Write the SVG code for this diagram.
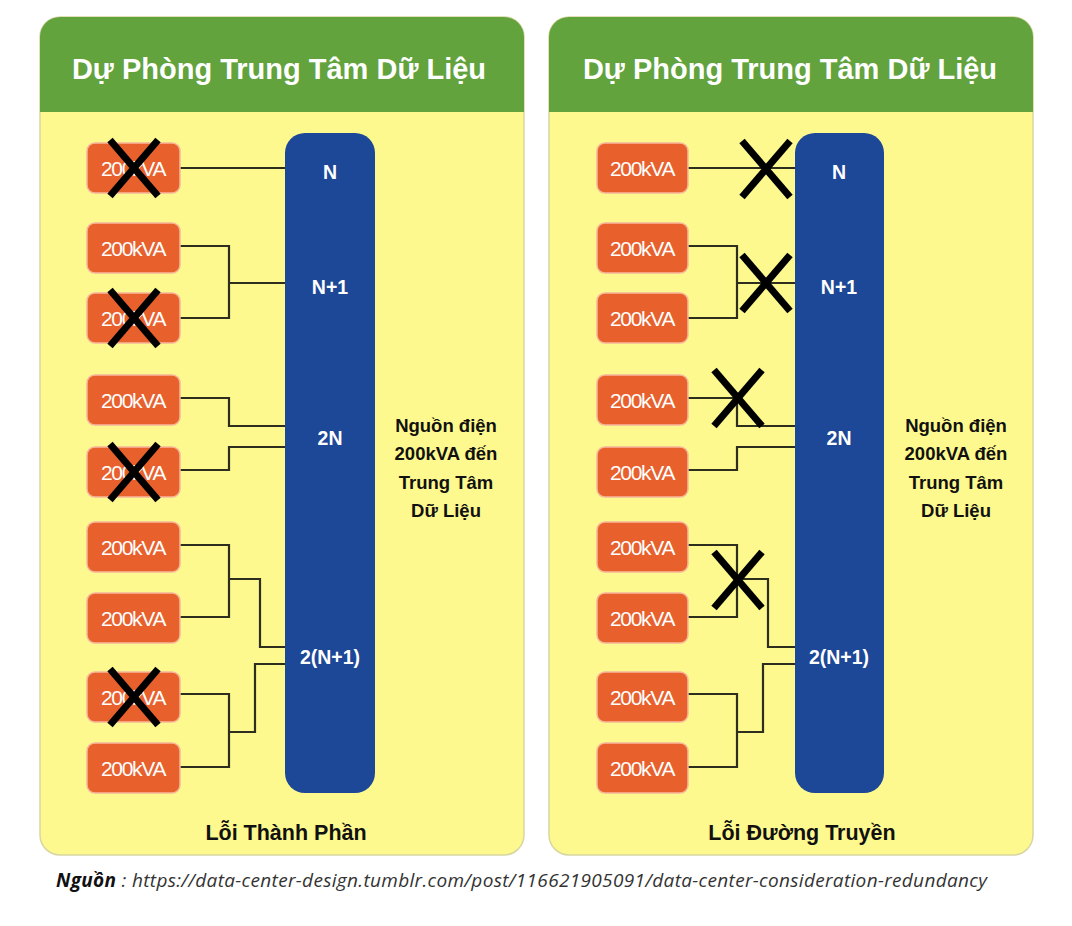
<svg xmlns="http://www.w3.org/2000/svg" width="1072" height="926" viewBox="0 0 1072 926">
<defs>
<style>
.panel{fill:#FDF98E;stroke:#D8D6A0;stroke-width:1.5}
.hdr{fill:#62A33E}
.title{font-family:"Liberation Sans",Arial,sans-serif;font-weight:bold;font-size:29px;fill:#fff;text-anchor:middle}
.box{fill:#E8602C;stroke:#F6B79A;stroke-width:1.5}
.bt{font-family:"Liberation Sans",Arial,sans-serif;font-size:21px;fill:#fff;text-anchor:middle;letter-spacing:-1.3px}
.bar{fill:#1D4797}
.bl{font-family:"Liberation Sans",Arial,sans-serif;font-weight:bold;font-size:19.5px;fill:#fff;text-anchor:middle}
.side{font-family:"Liberation Sans",Arial,sans-serif;font-weight:bold;font-size:18.5px;fill:#111;text-anchor:middle}
.foot{font-family:"Liberation Sans",Arial,sans-serif;font-weight:bold;font-size:21.5px;fill:#111;text-anchor:middle}
.ln{fill:none;stroke:#2E2E1E;stroke-width:2.2}
.x{stroke:#000;stroke-width:7;stroke-linecap:butt}
.src{font-family:"Open Sans","Liberation Sans",sans-serif;font-style:italic;font-size:19px;fill:#333}
</style>
<clipPath id="cpL"><rect x="40" y="17" width="484" height="838" rx="20"/></clipPath>
<clipPath id="cpR"><rect x="549" y="17" width="484" height="838" rx="20"/></clipPath>
<g id="xm"><line class="x" x1="-24" y1="-28" x2="24" y2="28"/><line class="x" x1="24" y1="-28" x2="-24" y2="28"/></g>
</defs>
<rect width="1072" height="926" fill="#fff"/>

<!-- LEFT PANEL -->
<g id="panel-left">
<rect class="panel" x="40" y="17" width="484" height="838" rx="20"/>
<rect class="hdr" x="40" y="17" width="484" height="95" clip-path="url(#cpL)"/>
<text class="title" x="279" y="79">Dự Phòng Trung Tâm Dữ Liệu</text>
</g>
<g id="connectors-left">
<path class="ln" d="M180 168 H285"/>
<path class="ln" d="M180 246 H229 V318 H180 M229 283 H285"/>
<path class="ln" d="M180 398 H229 V426 H285 M180 470 H229 V447 H285"/>
<path class="ln" d="M180 545 H229 V617 H180 M229 579 H260 V647 H285"/>
<path class="ln" d="M180 694 H229 V767 H180 M229 732 H255 V664 H285"/>
</g>
<g id="bar-left">
<rect class="bar" x="285" y="133" width="90" height="660" rx="20"/>
<text class="bl" x="330" y="179">N</text>
<text class="bl" x="330" y="294">N+1</text>
<text class="bl" x="330" y="445">2N</text>
<text class="bl" x="330" y="664">2(N+1)</text>
</g>
<g id="boxes-left">
<g id="L1"><rect class="box" x="87" y="143" width="93" height="50" rx="8"/><text class="bt" x="133" y="176">200kVA</text></g>
<g id="L2"><rect class="box" x="87" y="223" width="93" height="50" rx="8"/><text class="bt" x="133" y="256">200kVA</text></g>
<g id="L3"><rect class="box" x="87" y="293" width="93" height="50" rx="8"/><text class="bt" x="133" y="326">200kVA</text></g>
<g id="L4"><rect class="box" x="87" y="375" width="93" height="50" rx="8"/><text class="bt" x="133" y="408">200kVA</text></g>
<g id="L5"><rect class="box" x="87" y="447" width="93" height="50" rx="8"/><text class="bt" x="133" y="480">200kVA</text></g>
<g id="L6"><rect class="box" x="87" y="522" width="93" height="50" rx="8"/><text class="bt" x="133" y="555">200kVA</text></g>
<g id="L7"><rect class="box" x="87" y="593" width="93" height="50" rx="8"/><text class="bt" x="133" y="626">200kVA</text></g>
<g id="L8"><rect class="box" x="87" y="672" width="93" height="50" rx="8"/><text class="bt" x="133" y="705">200kVA</text></g>
<g id="L9"><rect class="box" x="87" y="743" width="93" height="50" rx="8"/><text class="bt" x="133" y="776">200kVA</text></g>
</g>
<g id="crosses-left">
<use href="#xm" x="134" y="168"/>
<use href="#xm" x="134" y="318"/>
<use href="#xm" x="134" y="472"/>
<use href="#xm" x="134" y="697"/>
</g>
<g id="side-left">
<text class="side" x="446" y="432">Nguồn điện</text>
<text class="side" x="446" y="460">200kVA đến</text>
<text class="side" x="446" y="489">Trung Tâm</text>
<text class="side" x="446" y="517">Dữ Liệu</text>
</g>
<text class="foot" x="286" y="840">Lỗi Thành Phần</text>

<!-- RIGHT PANEL -->
<g id="panel-right">
<rect class="panel" x="549" y="17" width="484" height="838" rx="20"/>
<rect class="hdr" x="549" y="17" width="484" height="95" clip-path="url(#cpR)"/>
<text class="title" x="790" y="79">Dự Phòng Trung Tâm Dữ Liệu</text>
</g>
<g id="connectors-right">
<path class="ln" d="M688 168 H795"/>
<path class="ln" d="M688 246 H737 V318 H688 M737 283 H795"/>
<path class="ln" d="M688 398 H737 V426 H795 M688 470 H737 V447 H795"/>
<path class="ln" d="M688 545 H737 V617 H688 M737 579 H768 V647 H795"/>
<path class="ln" d="M688 694 H737 V767 H688 M737 732 H763 V664 H795"/>
</g>
<g id="bar-right">
<rect class="bar" x="795" y="133" width="89" height="660" rx="20"/>
<text class="bl" x="839" y="179">N</text>
<text class="bl" x="839" y="294">N+1</text>
<text class="bl" x="839" y="445">2N</text>
<text class="bl" x="839" y="664">2(N+1)</text>
</g>
<g id="boxes-right">
<g id="R1"><rect class="box" x="597" y="143" width="91" height="50" rx="8"/><text class="bt" x="642" y="176">200kVA</text></g>
<g id="R2"><rect class="box" x="597" y="223" width="91" height="50" rx="8"/><text class="bt" x="642" y="256">200kVA</text></g>
<g id="R3"><rect class="box" x="597" y="293" width="91" height="50" rx="8"/><text class="bt" x="642" y="326">200kVA</text></g>
<g id="R4"><rect class="box" x="597" y="375" width="91" height="50" rx="8"/><text class="bt" x="642" y="408">200kVA</text></g>
<g id="R5"><rect class="box" x="597" y="447" width="91" height="50" rx="8"/><text class="bt" x="642" y="480">200kVA</text></g>
<g id="R6"><rect class="box" x="597" y="522" width="91" height="50" rx="8"/><text class="bt" x="642" y="555">200kVA</text></g>
<g id="R7"><rect class="box" x="597" y="593" width="91" height="50" rx="8"/><text class="bt" x="642" y="626">200kVA</text></g>
<g id="R8"><rect class="box" x="597" y="672" width="91" height="50" rx="8"/><text class="bt" x="642" y="705">200kVA</text></g>
<g id="R9"><rect class="box" x="597" y="743" width="91" height="50" rx="8"/><text class="bt" x="642" y="776">200kVA</text></g>
</g>
<g id="crosses-right">
<use href="#xm" x="766" y="169"/>
<use href="#xm" x="766" y="283"/>
<use href="#xm" x="738" y="398"/>
<use href="#xm" x="738" y="580"/>
</g>
<g id="side-right">
<text class="side" x="956" y="432">Nguồn điện</text>
<text class="side" x="956" y="460">200kVA đến</text>
<text class="side" x="956" y="489">Trung Tâm</text>
<text class="side" x="956" y="517">Dữ Liệu</text>
</g>
<text class="foot" x="802" y="840">Lỗi Đường Truyền</text>

<text class="src" x="56" y="887" textLength="931" lengthAdjust="spacing"><tspan font-weight="bold" fill="#111">Nguồn</tspan> : https://data-center-design.tumblr.com/post/116621905091/data-center-consideration-redundancy</text>
</svg>
